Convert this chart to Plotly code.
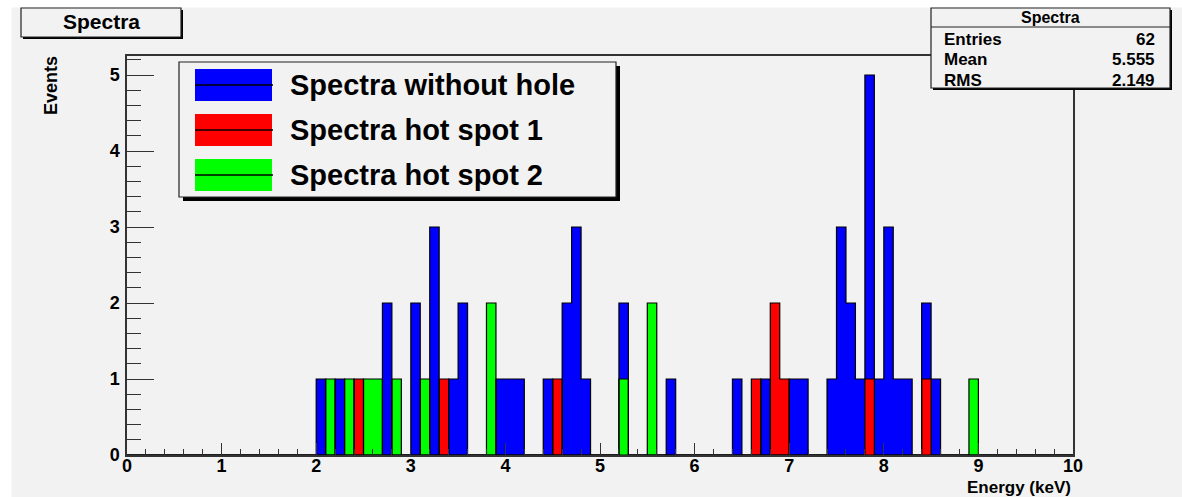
import plotly.graph_objects as go

# ---------------- data (bin low edges, keV ; counts) ----------------
bin_width = 0.1
x_min, x_max = 0.0, 10.0
n_bins = 100

blue_bins = [2.0, 2.2, 2.7, 3.0, 3.2, 3.4, 3.5, 3.9, 4.0, 4.1, 4.4, 4.6, 4.7, 4.8,
             5.2, 5.7, 6.4, 6.7, 7.0, 7.1, 7.4, 7.5, 7.6, 7.7, 7.8, 7.9, 8.0, 8.1,
             8.2, 8.4, 8.5]
blue_counts = [1, 1, 2, 2, 3, 1, 2, 1, 1, 1, 1, 2, 3, 1,
               2, 1, 1, 1, 1, 1, 1, 3, 2, 1, 5, 1, 3, 1,
               1, 2, 1]
red_bins = [2.4, 3.3, 4.5, 6.6, 6.8, 6.9, 7.8, 8.4]
red_counts = [1, 1, 1, 1, 2, 1, 1, 1]
green_bins = [2.1, 2.3, 2.5, 2.6, 2.8, 3.1, 3.8, 5.2, 5.5, 8.9]
green_counts = [1, 1, 1, 1, 1, 1, 2, 1, 2, 1]

series_names = ["Spectra without hole", "Spectra hot spot 1", "Spectra hot spot 2"]
series_colors = ["#0000ff", "#ff0000", "#00ff00"]

stats_title = "Spectra"
stats_labels = ["Entries", "Mean", "RMS"]
stats_values = ["62", "5.555", "2.149"]

# ---------------- layout geometry ----------------
W, H = 1182, 497
L, R, T, B = 127, 109, 56, 42
PW, PH = W - L - R, H - T - B
FONT = "Liberation Sans, Arial, Helvetica, sans-serif"
BG = "#f2f2f2"
FRAME = "#333333"


def px(x):
    return (x - L) / PW


def py(y):
    return (T + PH - y) / PH


def full_hist(bins, counts):
    h = [0] * n_bins
    for b, c in zip(bins, counts):
        h[int(round((b - x_min) / bin_width))] = c
    return h


fig = go.Figure()
all_data = [(blue_bins, blue_counts), (red_bins, red_counts), (green_bins, green_counts)]
edges = [x_min + i * bin_width for i in range(n_bins + 1)]
for (bins, counts), name, col in zip(all_data, series_names, series_colors):
    h = full_hist(bins, counts)
    fig.add_trace(go.Bar(
        x=[b + bin_width / 2 for b in bins], y=counts, width=bin_width,
        marker=dict(color=col, line=dict(width=0)), name=name, showlegend=False))
    fig.add_trace(go.Scatter(
        x=edges, y=h + [0], mode="lines", line=dict(shape="hv", color="#000000", width=1.2),
        showlegend=False, hoverinfo="skip"))

shapes = []
annotations = []

# white strips outside the ROOT canvas
shapes.append(dict(type="rect", xref="paper", yref="paper", x0=px(0), x1=px(11.5),
                   y0=py(H), y1=py(0), fillcolor="white", line=dict(width=0), layer="above"))
shapes.append(dict(type="rect", xref="paper", yref="paper", x0=px(0), x1=px(W),
                   y0=py(7.5), y1=py(0), fillcolor="white", line=dict(width=0), layer="above"))


def box(x0, y0, x1, y1, shadow=3):
    shapes.append(dict(type="rect", xref="paper", yref="paper",
                       x0=px(x0 + shadow), x1=px(x1 + shadow), y0=py(y1 + shadow), y1=py(y0 + shadow),
                       fillcolor="#000000", line=dict(width=0), layer="above"))
    shapes.append(dict(type="rect", xref="paper", yref="paper",
                       x0=px(x0), x1=px(x1), y0=py(y1), y1=py(y0),
                       fillcolor=BG, line=dict(color="#222222", width=1.2), layer="above"))


def text(s, x, y, size, xanchor="center", angle=0):
    annotations.append(dict(text=s, x=px(x), y=py(y), xref="paper", yref="paper",
                            xanchor=xanchor, yanchor="middle", showarrow=False, textangle=angle,
                            font=dict(family=FONT, size=size, color="#000000", weight="bold")))


# title box
box(21, 8, 181, 37, shadow=2)
text(stats_title, 101, 22, 21)

# stats box
box(931, 8, 1170, 88, shadow=2)
shapes.append(dict(type="line", xref="paper", yref="paper", x0=px(931), x1=px(1170),
                   y0=py(27), y1=py(27), line=dict(color="#222222", width=1), layer="above"))
text(stats_title, 1050, 17.5, 16)
for i, (lab, val) in enumerate(zip(stats_labels, stats_values)):
    yy = 39 + i * 20.5
    text(lab, 942, yy, 17, xanchor="left")
    text(val, 1157, yy, 17, xanchor="right")

# legend box
box(179, 62, 616, 197, shadow=4)
for i, (name, col) in enumerate(zip(series_names, series_colors)):
    yc = 85 + i * 45
    shapes.append(dict(type="rect", xref="paper", yref="paper", x0=px(195), x1=px(272),
                       y0=py(yc + 16), y1=py(yc - 16), fillcolor=col, line=dict(width=0), layer="above"))
    shapes.append(dict(type="line", xref="paper", yref="paper", x0=px(195), x1=px(273),
                       y0=py(yc), y1=py(yc), line=dict(color="#000000", width=1.5), layer="above"))
    text(name, 288, yc, 29, xanchor="left")

# axis titles
text("Events", 51, 86, 18, angle=-90)
text("Energy (keV)", 1073, 487, 17, xanchor="right")

axis_common = dict(showline=True, mirror=True, linecolor=FRAME, linewidth=1.5,
                   ticks="inside", tickcolor=FRAME, tickwidth=1.2, showgrid=False,
                   zeroline=False,
                   tickfont=dict(family=FONT, size=18, color="#000000", weight="bold"))

fig.update_layout(
    width=W, height=H,
    margin=dict(l=L, r=R, t=T, b=B),
    paper_bgcolor=BG, plot_bgcolor=BG,
    barmode="overlay", bargap=0,
    showlegend=False,
    shapes=shapes, annotations=annotations,
    xaxis=dict(range=[x_min, x_max], dtick=1, tick0=0, ticklen=12, ticklabelstandoff=-6,
               minor=dict(dtick=0.2, ticks="inside", ticklen=6, tickcolor=FRAME, tickwidth=1.2),
               **axis_common),
    yaxis=dict(range=[0, 5.25], dtick=1, tick0=0, ticklen=27, ticklabelstandoff=2,
               minor=dict(dtick=0.2, ticks="inside", ticklen=14, tickcolor=FRAME, tickwidth=1.2),
               **axis_common),
)

fig.write_html("out.html")
